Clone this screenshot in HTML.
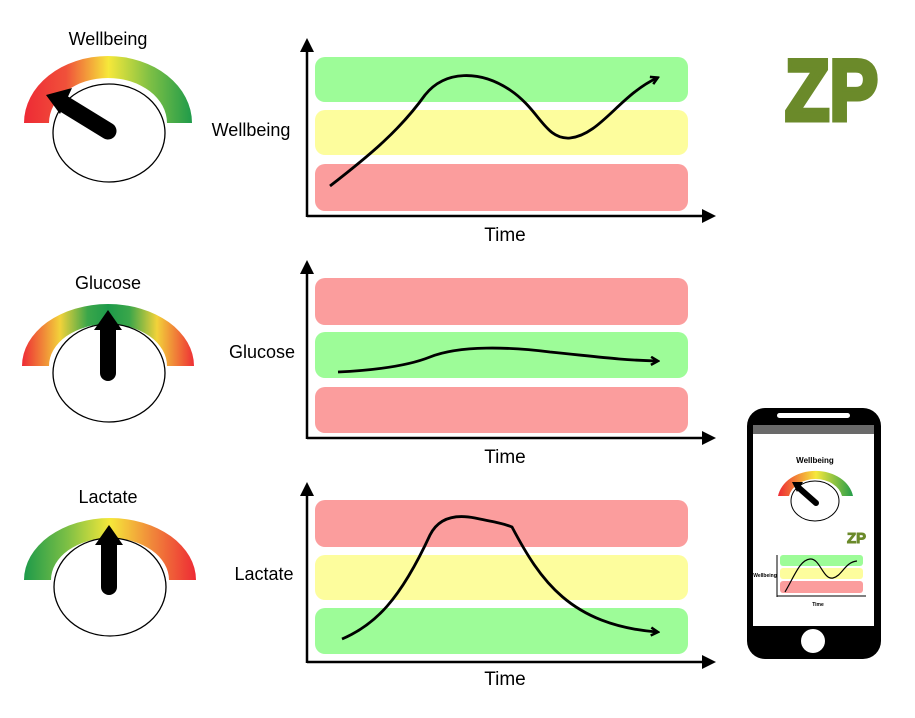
<!DOCTYPE html>
<html><head><meta charset="utf-8"><style>html,body{margin:0;padding:0;background:#fff}svg{display:block}text{font-family:"Liberation Sans",sans-serif}</style></head>
<body>
<svg width="915" height="718" viewBox="0 0 915 718" xmlns="http://www.w3.org/2000/svg">
<defs>
<linearGradient id="gw" x1="24" x2="193" y1="0" y2="0" gradientUnits="userSpaceOnUse">
<stop offset="0" stop-color="#ee2a35"/><stop offset="0.25" stop-color="#f0513a"/><stop offset="0.5" stop-color="#f6e83a"/><stop offset="0.75" stop-color="#7cbf45"/><stop offset="1" stop-color="#1d9a4a"/></linearGradient>
<linearGradient id="gg" x1="22" x2="195" y1="0" y2="0" gradientUnits="userSpaceOnUse">
<stop offset="0" stop-color="#ee2a35"/><stop offset="0.22" stop-color="#f2d23a"/><stop offset="0.38" stop-color="#3aa64a"/><stop offset="0.5" stop-color="#1d9a4a"/><stop offset="0.62" stop-color="#3aa64a"/><stop offset="0.78" stop-color="#f2d23a"/><stop offset="1" stop-color="#ee2a35"/></linearGradient>
<linearGradient id="gl" x1="24" x2="196" y1="0" y2="0" gradientUnits="userSpaceOnUse">
<stop offset="0" stop-color="#1d9a4a"/><stop offset="0.25" stop-color="#7cbf45"/><stop offset="0.5" stop-color="#f6e83a"/><stop offset="0.75" stop-color="#f0853a"/><stop offset="1" stop-color="#ee2a35"/></linearGradient>
<linearGradient id="gpw" x1="778" x2="854" y1="0" y2="0" gradientUnits="userSpaceOnUse">
<stop offset="0" stop-color="#ee2a35"/><stop offset="0.5" stop-color="#f6e83a"/><stop offset="1" stop-color="#1d9a4a"/></linearGradient>
<marker id="ah" markerWidth="10" markerHeight="10" refX="7" refY="5" orient="auto" markerUnits="userSpaceOnUse"><path d="M1,1 L8,5 L1,9" fill="none" stroke="#000" stroke-width="2.5"/></marker>
</defs>

<text x="108" y="45" font-size="18" text-anchor="middle">Wellbeing</text>
<path d="M24,123 A84,67 0 0 1 192,123 L167,123 A59,45 0 0 0 49,123 Z" fill="url(#gw)"/>
<ellipse cx="109" cy="133" rx="56" ry="49" fill="#fff" stroke="#000" stroke-width="1.3"/>
<line x1="108" y1="131" x2="64" y2="104" stroke="#000" stroke-width="17" stroke-linecap="round"/>
<polygon points="46,95 72,88 60,114" fill="#000"/>

<text x="108" y="289" font-size="18" text-anchor="middle">Glucose</text>
<path d="M22,366 A86,62 0 0 1 194,366 L167,366 A59,42 0 0 0 49,366 Z" fill="url(#gg)"/>
<ellipse cx="109" cy="373" rx="56" ry="49" fill="#fff" stroke="#000" stroke-width="1.3"/>
<line x1="108" y1="373" x2="108" y2="325" stroke="#000" stroke-width="16" stroke-linecap="round"/>
<polygon points="108,310 94,330 122,330" fill="#000"/>

<text x="108" y="503" font-size="18" text-anchor="middle">Lactate</text>
<path d="M24,580 A86,62 0 0 1 196,580 L169,580 A59,42 0 0 0 51,580 Z" fill="url(#gl)"/>
<ellipse cx="110" cy="587" rx="56" ry="49" fill="#fff" stroke="#000" stroke-width="1.3"/>
<line x1="109" y1="587" x2="109" y2="540" stroke="#000" stroke-width="16" stroke-linecap="round"/>
<polygon points="109,525 95,545 123,545" fill="#000"/>

<rect x="315" y="57" width="373" height="45" rx="10" fill="#9dfc98"/>
<rect x="315" y="110" width="373" height="45" rx="10" fill="#fdfd9d"/>
<rect x="315" y="164" width="373" height="47" rx="10" fill="#fb9d9d"/>
<path d="M307,217 L307,42 M307,216 L712,216" stroke="#000" stroke-width="2.5" fill="none"/>
<path d="M300,52 L307,38 L314,52 Z M702,209 L716,216 L702,223 Z" fill="#000"/>
<text x="251" y="136" font-size="18" text-anchor="middle">Wellbeing</text>
<text x="505" y="241" font-size="19" text-anchor="middle">Time</text>
<path d="M330,186 C370,155 400,130 425,95 C445,70 480,70 510,90 C540,110 545,140 570,138 C600,135 620,95 657,78" fill="none" stroke="#000" stroke-width="2.8" marker-end="url(#ah)"/>

<rect x="315" y="278" width="373" height="47" rx="10" fill="#fb9d9d"/>
<rect x="315" y="332" width="373" height="46" rx="10" fill="#9dfc98"/>
<rect x="315" y="387" width="373" height="46" rx="10" fill="#fb9d9d"/>
<path d="M307,439 L307,264 M307,438 L712,438" stroke="#000" stroke-width="2.5" fill="none"/>
<path d="M300,274 L307,260 L314,274 Z M702,431 L716,438 L702,445 Z" fill="#000"/>
<text x="262" y="358" font-size="18" text-anchor="middle">Glucose</text>
<text x="505" y="463" font-size="19" text-anchor="middle">Time</text>
<path d="M338,372 C380,370 410,365 430,357 C460,345 510,347 550,352 C600,357 620,360 657,361" fill="none" stroke="#000" stroke-width="2.8" marker-end="url(#ah)"/>

<rect x="315" y="500" width="373" height="47" rx="10" fill="#fb9d9d"/>
<rect x="315" y="555" width="373" height="45" rx="10" fill="#fdfd9d"/>
<rect x="315" y="608" width="373" height="46" rx="10" fill="#9dfc98"/>
<path d="M307,663 L307,486 M307,662 L712,662" stroke="#000" stroke-width="2.5" fill="none"/>
<path d="M300,496 L307,482 L314,496 Z M702,655 L716,662 L702,669 Z" fill="#000"/>
<text x="264" y="580" font-size="18" text-anchor="middle">Lactate</text>
<text x="505" y="685" font-size="19" text-anchor="middle">Time</text>
<path d="M342,639 C375,625 400,600 430,535 C440,515 460,515 475,518 C495,522 505,524 512,527 C540,580 570,625 657,632" fill="none" stroke="#000" stroke-width="2.8" marker-end="url(#ah)"/>

<text x="785" y="120" font-size="86" font-weight="900" fill="#6b8a2a" stroke="#6b8a2a" stroke-width="5" stroke-linejoin="miter" textLength="93" lengthAdjust="spacingAndGlyphs">ZP</text>

<rect x="747" y="408" width="134" height="251" rx="18" fill="#000"/>
<rect x="753" y="425" width="121" height="201" fill="#fff"/>
<rect x="753" y="425" width="121" height="9" fill="#6a6a6a"/>
<rect x="777" y="413" width="73" height="5" rx="2.5" fill="#fff"/>
<circle cx="813" cy="641" r="12" fill="#fff"/>
<text x="815" y="463" font-size="8" text-anchor="middle" font-weight="bold">Wellbeing</text>
<path d="M778,496 A38,30 0 0 1 853,496 L842,496 A27,21 0 0 0 789,496 Z" fill="url(#gpw)"/>
<ellipse cx="815" cy="501" rx="24" ry="20" fill="#fff" stroke="#000" stroke-width="1"/>
<line x1="816" y1="503" x2="799" y2="488" stroke="#000" stroke-width="6" stroke-linecap="round"/>
<polygon points="792,482 803,482 797,492" fill="#000"/>
<text x="847" y="543" font-size="15" font-weight="bold" fill="#6b8a2a" stroke="#6b8a2a" stroke-width="1" textLength="19" lengthAdjust="spacingAndGlyphs">ZP</text>
<rect x="780" y="555" width="83" height="11" rx="3" fill="#9dfc98"/>
<rect x="780" y="568" width="83" height="11" rx="3" fill="#fdfd9d"/>
<rect x="780" y="581" width="83" height="12" rx="3" fill="#fb9d9d"/>
<path d="M777,597 L777,555 M777,596 L866,596" stroke="#000" stroke-width="1" fill="none"/>
<text x="765" y="577" font-size="5" text-anchor="middle" font-weight="bold">Wellbeing</text>
<text x="818" y="606" font-size="5" text-anchor="middle" font-weight="bold">Time</text>
<path d="M785,592 C795,575 800,560 810,559 C820,558 823,580 833,578 C842,576 845,562 857,561" fill="none" stroke="#000" stroke-width="1.2"/>
</svg>
</body></html>
